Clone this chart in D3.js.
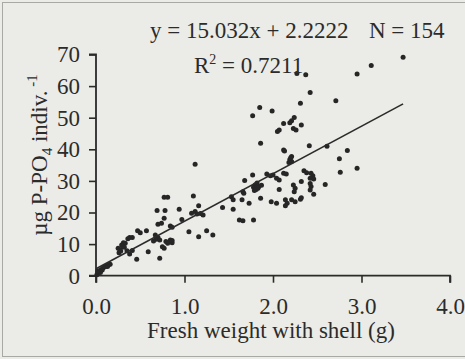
<!DOCTYPE html>
<html>
<head>
<meta charset="utf-8">
<script src="https://cdn.jsdelivr.net/npm/d3@7"></script>
<style>
  body { margin: 0; background: #ebebe7; }
  svg text { font-family: "Liberation Serif", "Times New Roman", serif; fill: #2b2b2b; }
</style>
</head>
<body>
<div id="scatter"></div>
<script>
// fresh weight (g) of each individual
var weight = [
  0.01, 0.02, 0.03, 0.04, 0.05, 0.06, 0.07, 0.08, 0.10, 0.12, 0.14, 0.16, 0.02, 0.13,
  0.25, 0.27, 0.26, 0.29, 0.31, 0.33, 0.35, 0.38, 0.41, 0.38, 0.41, 0.47, 0.50, 0.57, 0.59, 0.46, 0.30, 0.28, 0.32, 0.36,
  0.77, 0.81, 0.69, 0.78, 0.94, 0.77, 0.70, 0.74, 0.84, 0.67, 0.70, 0.68, 0.72, 0.84, 0.81, 0.86, 0.75, 0.77, 0.72, 0.86, 0.97, 0.86, 0.65, 0.79,
  1.12, 1.10, 1.16, 1.12, 1.14, 1.18, 1.21, 1.05, 1.25, 1.16, 1.32, 1.08,
  1.43, 1.53, 1.55, 1.55, 1.65, 1.62, 1.66, 1.68, 1.66, 1.67, 1.73,
  1.77, 1.78, 1.81, 1.83, 1.78, 1.79, 1.80, 1.82, 1.84, 1.86, 1.85, 1.77, 1.86, 1.87,
  1.99, 2.07, 2.05, 1.93, 1.97, 2.00, 2.04, 2.07, 2.07, 1.98, 2.04,
  2.24, 2.21, 2.19, 2.12, 2.23, 2.26, 2.12, 2.13, 2.21, 2.19, 2.21, 2.18, 2.12, 2.15, 2.23, 2.25, 2.24, 2.14, 2.16, 2.14, 2.21, 2.25, 2.27, 2.20,
  2.37, 2.42, 2.31, 2.32, 2.41, 2.35, 2.38, 2.43, 2.45, 2.42, 2.46, 2.32, 2.42, 2.43, 2.42, 2.46, 2.31, 2.32,
  2.59, 2.61, 2.71, 2.75, 2.76, 2.84, 2.95, 2.95, 3.11, 3.47
];

// P-PO4 per individual (ug)
var phosphate = [
  0.3, 0.8, 1.2, 1.6, 1.0, 2.0, 1.8, 2.4, 2.8, 3.1, 3.4, 3.6, 1.5, 2.9,
  8.7, 8.1, 7.3, 9.7, 10.4, 10.3, 7.9, 6.9, 8.0, 12.1, 12.1, 14.2, 13.6, 14.2, 7.6, 5.2, 9.2, 7.8, 9.0, 11.7,
  24.8, 24.8, 20.6, 20.6, 21.0, 18.2, 16.3, 16.6, 15.7, 12.9, 12.1, 11.5, 11.3, 11.3, 10.3, 10.4, 9.2, 8.7, 5.5, 11.1, 17.8, 15.3, 11.0, 10.8,
  35.3, 25.2, 22.1, 20.3, 19.5, 19.7, 19.2, 13.9, 14.2, 12.3, 12.9, 19.8,
  21.6, 25.0, 24.0, 21.0, 24.0, 17.6, 17.4, 30.1, 26.6, 26.1, 22.9,
  31.9, 28.0, 27.3, 27.7, 17.6, 27.0, 28.8, 29.3, 28.2, 24.5, 53.2, 50.6, 41.9, 28.6,
  52.1, 46.1, 45.6, 32.2, 31.6, 31.9, 30.8, 30.3, 27.3, 23.4, 22.9,
  50.1, 49.0, 48.4, 48.2, 46.6, 46.1, 39.8, 39.5, 37.7, 36.8, 36.1, 35.8, 32.4, 32.2, 28.7, 27.7, 26.6, 24.0, 22.9, 22.1, 24.0, 23.4, 64.0, 37.3,
  63.6, 58.0, 54.6, 47.7, 41.1, 33.2, 32.6, 32.4, 31.6, 30.8, 30.6, 29.8, 29.2, 28.2, 27.1, 25.8, 24.2, 24.7,
  28.9, 41.0, 55.4, 37.0, 32.7, 39.6, 34.0, 63.8, 66.5, 69.1
];

var xTicks = [0, 1, 2, 3, 4];
var yTicks = [0, 10, 20, 30, 40, 50, 60, 70];

// regression y = 15.032x + 2.2222, drawn from 0 to the largest weight
var slope = 15.032;
var intercept = 2.2222;
var fitRange = [0, 3.47];

var svgWidth = 465;
var svgHeight = 359;

var margin = { top: 54.5, left: 96 };
var width = 354;
var height = 221.2;

var svg = d3.select("#scatter")
  .append("svg")
  .attr("width", svgWidth)
  .attr("height", svgHeight);

// scan frame
svg.append("rect")
  .attr("x", 2.5)
  .attr("y", 2.5)
  .attr("width", svgWidth)
  .attr("height", 354)
  .attr("fill", "none")
  .attr("stroke", "#a8a8a4")
  .attr("stroke-width", 1);

var chartGroup = svg.append("g")
  .attr("transform", `translate(${margin.left}, ${margin.top})`);

var xScale = d3.scaleLinear().domain([0, 4]).range([0, width]);
var yScale = d3.scaleLinear().domain([0, 70]).range([height, 0]);

var bottomAxis = d3.axisBottom(xScale)
  .tickValues(xTicks)
  .tickSize(7)
  .tickPadding(15)
  .tickFormat(d3.format(".1f"));

var leftAxis = d3.axisLeft(yScale)
  .tickValues(yTicks)
  .tickSize(7)
  .tickPadding(9);

var xAxis = chartGroup.append("g")
  .attr("transform", `translate(0, ${height})`)
  .call(bottomAxis);

var yAxis = chartGroup.append("g")
  .call(leftAxis);

[xAxis, yAxis].forEach(function(ax) {
  ax.attr("font-family", null).attr("font-size", null);
  ax.select(".domain").attr("stroke", "#2b2b2b").attr("stroke-width", 1.8);
  ax.selectAll(".tick line").attr("stroke", "#2b2b2b").attr("stroke-width", 1.6);
  ax.selectAll(".tick text")
    .attr("font-family", "Liberation Serif")
    .style("font-family", "'Liberation Serif', serif")
    .style("font-size", "23px")
    .attr("fill", "#2b2b2b");
});

// keep the end ticks pointing outward
xAxis.select(".domain").attr("d", `M0,7V0H${width}V7`);
yAxis.select(".domain").attr("d", `M-7,${height}H0V0H-7`);

// points
var points = weight.map((w, i) => ({ x: w, y: phosphate[i] }));

chartGroup.selectAll("circle")
  .data(points)
  .enter()
  .append("circle")
  .attr("cx", d => xScale(d.x))
  .attr("cy", d => yScale(d.y))
  .attr("r", 2.5)
  .attr("fill", "#262626");

// fitted line
chartGroup.append("line")
  .attr("x1", xScale(fitRange[0]))
  .attr("y1", yScale(slope * fitRange[0] + intercept))
  .attr("x2", xScale(fitRange[1]))
  .attr("y2", yScale(slope * fitRange[1] + intercept))
  .attr("stroke", "#2b2b2b")
  .attr("stroke-width", 1.6);

// equation text
svg.append("text")
  .attr("x", 150)
  .attr("y", 37.5)
  .attr("font-size", 23)
  .text("y = 15.032x + 2.2222");

svg.append("text")
  .attr("x", 369)
  .attr("y", 37.5)
  .attr("font-size", 23)
  .text("N = 154");

var r2 = svg.append("text")
  .attr("x", 194)
  .attr("y", 72.5)
  .attr("font-size", 23);
r2.append("tspan").text("R");
r2.append("tspan").attr("font-size", 14).attr("dy", -9).text("2");
r2.append("tspan").attr("dy", 9).text(" = 0.7211");

// axis titles
svg.append("text")
  .attr("x", 271)
  .attr("y", 338)
  .attr("text-anchor", "middle")
  .attr("font-size", 23)
  .text("Fresh weight with shell (g)");

var yTitle = svg.append("text")
  .attr("transform", "translate(47, 155) rotate(-90)")
  .attr("text-anchor", "middle")
  .attr("font-size", 23);
yTitle.append("tspan").text("µg P-PO");
yTitle.append("tspan").attr("font-size", 15).attr("dy", 5).text("4");
yTitle.append("tspan").attr("dy", -5).text(" indiv.");
yTitle.append("tspan").attr("font-size", 15).attr("dy", -10).text(" -1");
</script>
</body>
</html>
